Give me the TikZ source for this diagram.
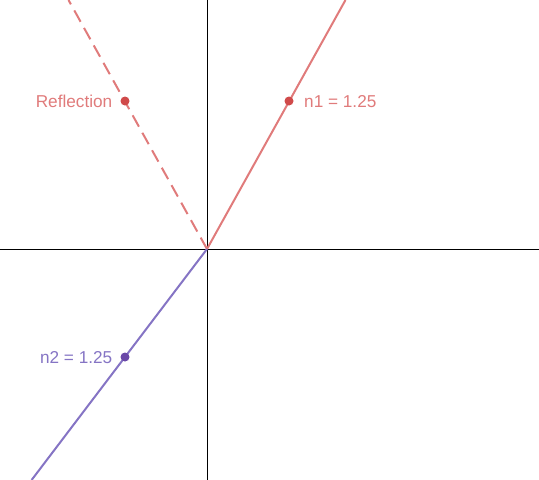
\documentclass[tikz,border=0pt]{standalone}
\usepackage{fontspec}
\setmainfont{Liberation Sans}
\definecolor{redline}{HTML}{E07B7B}
\definecolor{reddot}{HTML}{D04A4A}
\definecolor{purpline}{HTML}{8574C4}
\definecolor{purpdot}{HTML}{6A48A8}
\begin{document}
\begin{tikzpicture}[x=1pt,y=-1pt,
  axis/.style={black,line width=1pt},
  ray/.style={line width=2pt},
  dot/.style={circle,inner sep=0pt,minimum size=9pt},
  lbl/.style={font=\fontsize{17.2}{19}\selectfont,inner sep=0pt}]
\useasboundingbox (0,0) rectangle (539,480);
\coordinate (O) at (207,249);
\coordinate (top) at (207,0);
\coordinate (bot) at (207,480);
\coordinate (left) at (0,249);
\coordinate (right) at (539,249);
\coordinate (Rend) at (345.5,0);
\coordinate (Dend) at (68.5,0);
\coordinate (Pend) at (31.6,480);
\draw[axis] (top) -- (bot);
\draw[axis] (left) -- (right);
\draw[ray,redline] (O) -- (Rend);
\draw[ray,redline,dash pattern=on 13pt off 7pt] (O) -- (Dend);
\draw[ray,purpline] (O) -- (Pend);
\node[dot,fill=reddot] (p1) at (289,101) {};
\node[dot,fill=reddot] (pr) at (125,101) {};
\node[dot,fill=purpdot] (p2) at (125,357) {};
\node[lbl,text=redline,anchor=west] (l1) at (304,101.5) {n1 = 1.25};
\node[lbl,text=redline,anchor=east] (lr) at (112.5,101.5) {Reflection};
\node[lbl,text=purpline,anchor=east] (l2) at (112.5,357.5) {n2 = 1.25};
\end{tikzpicture}
\end{document}
